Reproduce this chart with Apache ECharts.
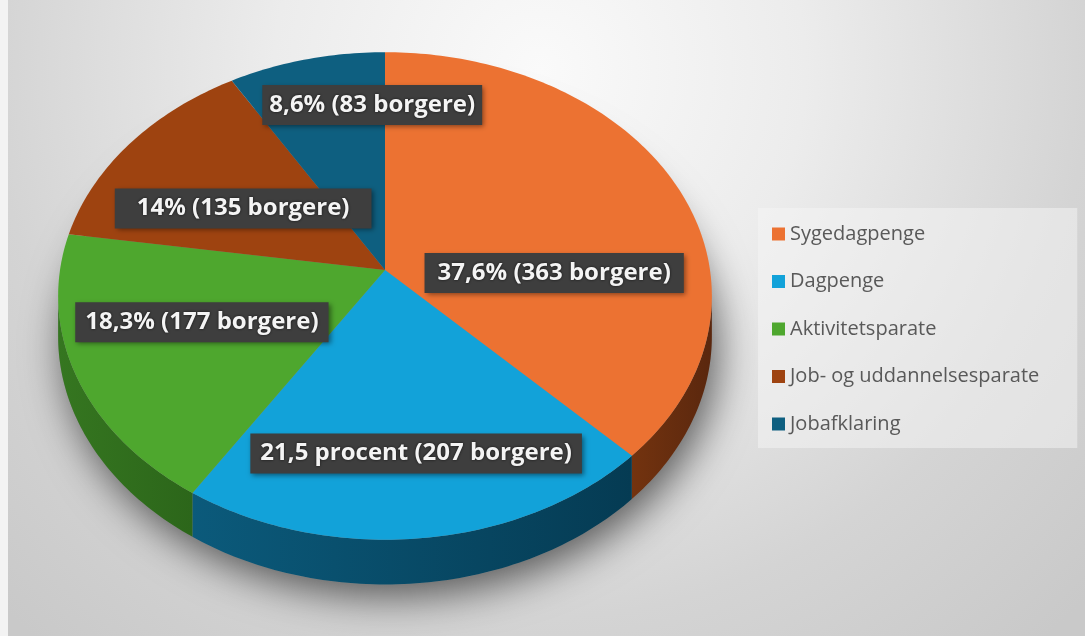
<!DOCTYPE html>
<html>
<head>
<meta charset="utf-8">
<script src="https://cdn.jsdelivr.net/npm/echarts@6/dist/echarts.min.js"></script>
<style>
  html, body { margin: 0; padding: 0; background: #fff; }
  #chart {
    width: 1085px; height: 636px;
    background: radial-gradient(circle 760px at 540px 70px, #fafafa 0%, #ececec 35%, #d4d4d4 72%, #c9c9c9 100%);
  }
</style>
</head>
<body>
<div id="chart"></div>
<script>
// data
const categories = ['Sygedagpenge', 'Dagpenge', 'Aktivitetsparate', 'Job- og uddannelsesparate', 'Jobafklaring'];
const borgere = [363, 207, 177, 135, 83];
const percentLabels = ['37,6%', '21,5 procent', '18,3%', '14%', '8,6%'];

// looks
const colors = ['#ec7232', '#12a2d9', '#4ea72e', '#9e4310', '#0e5f80'];
const sideColors = [
  ['#73330f', '#5a270e'],
  ['#0b5a7b', '#053b53'],
  ['#357620', '#2c661a'],
  ['#6b2d0a', '#5a260a'],
  ['#0a4560', '#083a52']
];
// where the label sits inside its slice: angle shift (deg), radius fraction, side padding
const labelShift = [23.7, -1.2, 3.3, -3.5, 12.2];
const labelRadius = [0.52, 0.71, 0.59, 0.52, 0.74];
const labelPadX = [13, 10, 10, 22, 7];

// projection of the tilted disc
const CX = 385, CY = 270, RX = 325, RY = 241, K = 0.1065, THICK = 40;
const total = borgere.reduce((a, b) => a + b, 0);
const edgeL = Math.acos(-K) * 180 / Math.PI;
const edgeR = 360 - edgeL;

function proj(deg, r) {
  const p = deg * Math.PI / 180;
  const X = r * Math.sin(p), Z = -r * Math.cos(p);
  const w = 1 - K * Z;
  return [CX + RX * X / w, CY + RY * Z / w, w];
}

function arc(a, b, down) {
  const pts = [];
  const n = Math.max(2, Math.ceil(b - a));
  for (let j = 0; j <= n; j++) {
    const d = a + (b - a) * j / n;
    const p = proj(d, 1);
    pts.push([p[0], p[1] + (down ? THICK / p[2] : 0)]);
  }
  return pts;
}

function startOf(i) {
  let s = 0;
  for (let j = 0; j < i; j++) s += borgere[j];
  return s / total * 360;
}

function buildSlice(i, value) {
  const a = startOf(i);
  const b = a + value / total * 360;
  const children = [];

  if (i === 0) {
    // soft shadow under the base
    children.push({
      type: 'polygon',
      z2: -10,
      shape: { points: arc(0, 360, true) },
      style: {
        fill: '#8a8a8a',
        shadowBlur: 40,
        shadowColor: 'rgba(0,0,0,0.6)',
        shadowOffsetX: 6,
        shadowOffsetY: 12
      }
    });
  }

  const lo = Math.max(a, edgeL), hi = Math.min(b, edgeR);
  if (lo < hi) {
    const top = arc(lo, hi, false);
    const bottom = arc(lo, hi, true).reverse();
    children.push({
      type: 'polygon',
      z2: 0,
      shape: { points: top.concat(bottom) },
      style: {
        fill: new echarts.graphic.LinearGradient(0, 0, 1, 0, [
          { offset: 0, color: sideColors[i][0] },
          { offset: 1, color: sideColors[i][1] }
        ])
      }
    });
  }

  children.push({
    type: 'polygon',
    z2: 10,
    shape: { points: [[CX, CY]].concat(arc(a, b, false)) },
    style: { fill: colors[i] }
  });

  const mid = (a + b) / 2 + labelShift[i];
  const lp = proj(mid, labelRadius[i]);
  children.push({
    type: 'text',
    z2: 100,
    x: lp[0],
    y: lp[1],
    style: {
      text: percentLabels[i] + ' (' + borgere[i] + ' borgere)',
      fill: '#f4f4f4',
      font: 'bold 24px "Open Sans", Lato, sans-serif',
      align: 'center',
      verticalAlign: 'middle',
      backgroundColor: '#3e3e3e',
      padding: [8, labelPadX[i], 8, labelPadX[i]],
      shadowBlur: 5,
      shadowColor: 'rgba(0,0,0,0.45)',
      shadowOffsetX: 2,
      shadowOffsetY: 2,
      textShadowBlur: 3,
      textShadowColor: 'rgba(0,0,0,0.7)'
    }
  });

  return { type: 'group', children: children };
}

const chart = echarts.init(document.getElementById('chart'), null, { renderer: 'canvas' });

const series = categories.map((name, i) => ({
  type: 'custom',
  name: name,
  coordinateSystem: 'none',
  data: [borgere[i]],
  itemStyle: { color: colors[i] },
  silent: true,
  renderItem: (params, api) => buildSlice(i, api.value(0))
}));

chart.setOption({
  backgroundColor: 'transparent',
  animation: false,
  graphic: [{
    type: 'rect',
    left: 0, top: 0,
    shape: { width: 8, height: 636 },
    style: { fill: '#f3f3f3' }
  }],
  legend: {
    data: categories,
    orient: 'vertical',
    left: 758,
    top: 208,
    icon: 'rect',
    itemWidth: 13,
    itemHeight: 13,
    itemGap: 27.5,
    padding: [16, 38, 14, 14],
    backgroundColor: 'rgba(246,246,246,0.5)',
    selectedMode: false,
    textStyle: {
      color: '#595959',
      fontFamily: 'Open Sans',
      fontSize: 20,
      lineHeight: 20
    }
  },
  series: series
});
</script>
</body>
</html>
